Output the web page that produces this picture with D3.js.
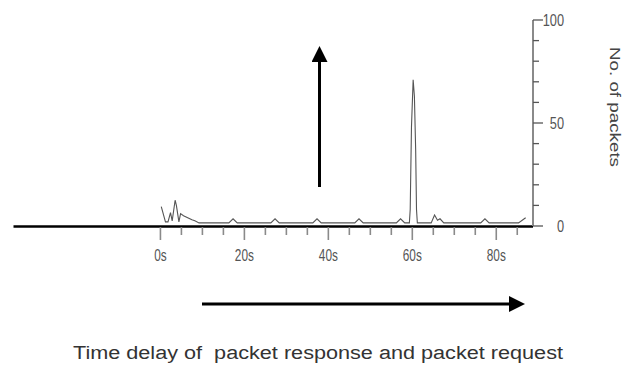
<!DOCTYPE html>
<html>
<head>
<meta charset="utf-8">
<script src="https://cdn.jsdelivr.net/npm/d3@7/dist/d3.min.js"></script>
<style>
  html, body { margin: 0; padding: 0; background: #fff; }
  svg { display: block; }
  text { font-family: "Liberation Sans", Arial, sans-serif; white-space: pre; }
</style>
</head>
<body>
<svg id="chart" width="634" height="365"></svg>
<script>
// ---- data ----
const times  = [0.2, 1.2, 1.8, 2.4, 2.8, 3.5, 3.8, 4.4, 4.8, 5.5, 6.5, 7.5, 8.2, 9.2,
                16.3, 17.3, 18.3, 26.3, 27.3, 28.3, 36.3, 37.3, 38.3, 46.3, 47.3, 48.3,
                56.2, 57.2, 58.2, 59.3, 59.5, 59.8, 60.2, 60.5, 60.8, 61.0, 61.2,
                64.5, 65.3, 66.0, 66.6, 67.5, 76.3, 77.3, 78.3, 85.3, 87.0];
const packets = [9.4, 2, 2, 6.5, 2.5, 12.5, 10, 2, 6, 5, 4, 3, 2.5, 1.5,
                 1.5, 3.5, 1.5, 1.5, 3.5, 1.5, 1.5, 3.5, 1.5, 1.5, 3.5, 1.5,
                 1.5, 3.5, 1.5, 1.5, 8, 48, 71, 63, 37, 8, 1.5,
                 1.5, 5.3, 2.8, 3.5, 1.5, 1.5, 3.5, 1.5, 1.5, 4];
const xTicks = [0, 5, 10, 15, 20, 25, 30, 35, 40, 45, 50, 55, 60, 65, 70, 75, 80, 85];
const xLabels = [0, 20, 40, 60, 80];
const yTicks = [0, 10, 20, 30, 40, 50, 60, 70, 80, 90, 100];
const yLabels = [0, 50, 100];
const xTitle = "Time delay of  packet response and packet request";
const yTitle = "No. of packets";

// ---- layout ----
const svg = d3.select("#chart");
const x = d3.scaleLinear().domain([-35, 88.75]).range([13.5, 533]);
const y = d3.scaleLinear().domain([0, 100]).range([226, 20]);

// x baseline (black)
svg.append("line")
  .attr("x1", x(-35)).attr("x2", x(88.75))
  .attr("y1", y(0) + 0.5).attr("y2", y(0) + 0.5)
  .attr("stroke", "#000").attr("stroke-width", 2.5);

// x ticks
svg.append("g").selectAll("line").data(xTicks).join("line")
  .attr("x1", d => x(d)).attr("x2", d => x(d))
  .attr("y1", y(0) + 1)
  .attr("y2", d => y(0) + (xLabels.includes(d) ? 14 : 9))
  .attr("stroke", "#8a8a8a").attr("stroke-width", 1.6);

svg.append("g").selectAll("text").data(xLabels).join("text")
  .attr("transform", d => `translate(${x(d)},261) scale(0.74,1)`)
  .attr("text-anchor", "middle")
  .attr("font-size", 16).attr("fill", "#555")
  .text(d => d + "s");

// y axis
svg.append("line")
  .attr("x1", x(88.75)).attr("x2", x(88.75))
  .attr("y1", y(100)).attr("y2", y(0))
  .attr("stroke", "#8a8a8a").attr("stroke-width", 2);

svg.append("g").selectAll("line").data(yTicks).join("line")
  .attr("x1", x(88.75)).attr("x2", d => x(88.75) + (yLabels.includes(d) ? 10 : 6))
  .attr("y1", d => y(d)).attr("y2", d => y(d))
  .attr("stroke", "#555").attr("stroke-width", 1.3);

svg.append("g").selectAll("text").data(yLabels).join("text")
  .attr("transform", d => `translate(564,${y(d) + 5.5}) scale(0.8,1)`)
  .attr("text-anchor", "end")
  .attr("font-size", 16).attr("fill", "#555")
  .text(d => d);

svg.append("text")
  .attr("transform", "translate(610,47) rotate(90)")
  .attr("text-anchor", "start")
  .attr("font-size", 15).attr("fill", "#444")
  .attr("textLength", 120).attr("lengthAdjust", "spacingAndGlyphs")
  .text(yTitle);

// data line
const pts = times.map((t, i) => [t, packets[i]]);
svg.append("path")
  .datum(pts)
  .attr("fill", "none")
  .attr("stroke", "#555")
  .attr("stroke-width", 1.1)
  .attr("d", d3.line().x(d => x(d[0])).y(d => y(d[1])));

// annotation arrows
svg.append("defs").append("marker")
  .attr("id", "ah").attr("viewBox", "0 0 10 10")
  .attr("refX", 0).attr("refY", 5)
  .attr("markerUnits", "userSpaceOnUse")
  .attr("markerWidth", 16).attr("markerHeight", 16)
  .attr("orient", "auto")
  .append("path").attr("d", "M0,0 L10,5 L0,10 Z").attr("fill", "#000");

svg.append("line")
  .attr("x1", 319.5).attr("y1", 187).attr("x2", 319.5).attr("y2", 62)
  .attr("stroke", "#000").attr("stroke-width", 3)
  .attr("marker-end", "url(#ah)");

svg.append("line")
  .attr("x1", 202).attr("y1", 304).attr("x2", 509).attr("y2", 304)
  .attr("stroke", "#000").attr("stroke-width", 3)
  .attr("marker-end", "url(#ah)");

// bottom title
svg.append("text")
  .attr("x", 73).attr("y", 359)
  .attr("text-anchor", "start")
  .attr("font-size", 18).attr("fill", "#333")
  .attr("textLength", 490).attr("lengthAdjust", "spacingAndGlyphs")
  .text(xTitle);
</script>
</body>
</html>
